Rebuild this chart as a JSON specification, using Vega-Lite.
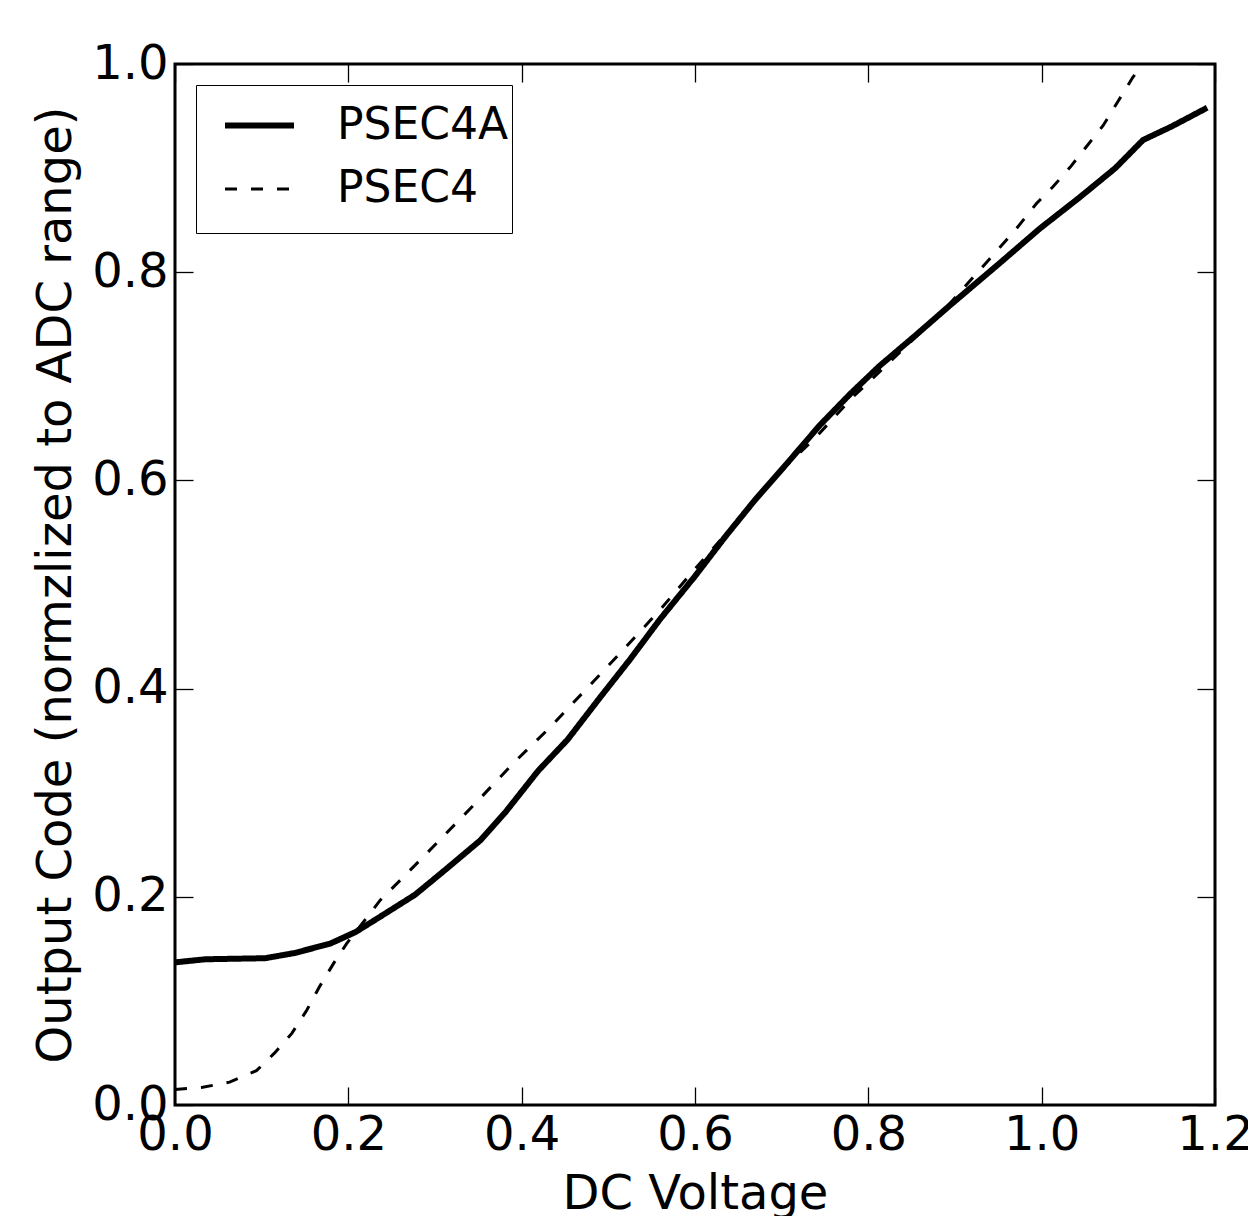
{
  "$schema": "https://vega.github.io/schema/vega-lite/v6.json",
  "autosize": {"type": "none"},
  "width": 1040,
  "height": 1041,
  "padding": {"left": 175, "top": 64, "right": 33, "bottom": 111},
  "background": "white",
  "config": {
    "font": "DejaVu Sans",
    "view": {"stroke": "black", "strokeWidth": 3},
    "axis": {
      "domain": false,
      "grid": false,
      "tickSize": -18,
      "tickColor": "black",
      "tickWidth": 1.3,
      "labelFont": "DejaVu Sans",
      "labelFontSize": 48,
      "labelColor": "black",
      "labelFlush": false,
      "labelOverlap": false,
      "labelBound": false,
      "titleFont": "DejaVu Sans",
      "titleFontSize": 48,
      "titleFontWeight": "normal",
      "titleColor": "black"
    },
    "legend": {
      "titleFont": "DejaVu Sans",
      "titleFontSize": 8,
      "titleOrient": "bottom",
      "titlePadding": 11,
      "titleColor": "white"
    }
  },
  "data": {
    "values": [
      {"v": 0.000, "code": 0.137, "series": "PSEC4A"},
      {"v": 0.035, "code": 0.140, "series": "PSEC4A"},
      {"v": 0.104, "code": 0.141, "series": "PSEC4A"},
      {"v": 0.138, "code": 0.146, "series": "PSEC4A"},
      {"v": 0.179, "code": 0.155, "series": "PSEC4A"},
      {"v": 0.208, "code": 0.166, "series": "PSEC4A"},
      {"v": 0.237, "code": 0.181, "series": "PSEC4A"},
      {"v": 0.277, "code": 0.202, "series": "PSEC4A"},
      {"v": 0.312, "code": 0.226, "series": "PSEC4A"},
      {"v": 0.352, "code": 0.254, "series": "PSEC4A"},
      {"v": 0.381, "code": 0.281, "series": "PSEC4A"},
      {"v": 0.419, "code": 0.321, "series": "PSEC4A"},
      {"v": 0.453, "code": 0.351, "series": "PSEC4A"},
      {"v": 0.490, "code": 0.391, "series": "PSEC4A"},
      {"v": 0.525, "code": 0.428, "series": "PSEC4A"},
      {"v": 0.560, "code": 0.467, "series": "PSEC4A"},
      {"v": 0.600, "code": 0.508, "series": "PSEC4A"},
      {"v": 0.635, "code": 0.546, "series": "PSEC4A"},
      {"v": 0.669, "code": 0.581, "series": "PSEC4A"},
      {"v": 0.710, "code": 0.620, "series": "PSEC4A"},
      {"v": 0.744, "code": 0.653, "series": "PSEC4A"},
      {"v": 0.779, "code": 0.683, "series": "PSEC4A"},
      {"v": 0.813, "code": 0.710, "series": "PSEC4A"},
      {"v": 0.854, "code": 0.739, "series": "PSEC4A"},
      {"v": 0.894, "code": 0.768, "series": "PSEC4A"},
      {"v": 0.952, "code": 0.809, "series": "PSEC4A"},
      {"v": 0.998, "code": 0.842, "series": "PSEC4A"},
      {"v": 1.044, "code": 0.872, "series": "PSEC4A"},
      {"v": 1.085, "code": 0.900, "series": "PSEC4A"},
      {"v": 1.117, "code": 0.927, "series": "PSEC4A"},
      {"v": 1.150, "code": 0.940, "series": "PSEC4A"},
      {"v": 1.191, "code": 0.958, "series": "PSEC4A"},
      {"v": 0.000, "code": 0.015, "series": "PSEC4"},
      {"v": 0.032, "code": 0.017, "series": "PSEC4"},
      {"v": 0.063, "code": 0.022, "series": "PSEC4"},
      {"v": 0.094, "code": 0.033, "series": "PSEC4"},
      {"v": 0.115, "code": 0.050, "series": "PSEC4"},
      {"v": 0.135, "code": 0.069, "series": "PSEC4"},
      {"v": 0.152, "code": 0.091, "series": "PSEC4"},
      {"v": 0.167, "code": 0.114, "series": "PSEC4"},
      {"v": 0.183, "code": 0.136, "series": "PSEC4"},
      {"v": 0.198, "code": 0.155, "series": "PSEC4"},
      {"v": 0.213, "code": 0.171, "series": "PSEC4"},
      {"v": 0.237, "code": 0.197, "series": "PSEC4"},
      {"v": 0.260, "code": 0.216, "series": "PSEC4"},
      {"v": 0.306, "code": 0.255, "series": "PSEC4"},
      {"v": 0.348, "code": 0.291, "series": "PSEC4"},
      {"v": 0.390, "code": 0.328, "series": "PSEC4"},
      {"v": 0.433, "code": 0.363, "series": "PSEC4"},
      {"v": 0.475, "code": 0.400, "series": "PSEC4"},
      {"v": 0.517, "code": 0.437, "series": "PSEC4"},
      {"v": 0.560, "code": 0.476, "series": "PSEC4"},
      {"v": 0.598, "code": 0.513, "series": "PSEC4"},
      {"v": 0.698, "code": 0.608, "series": "PSEC4"},
      {"v": 0.740, "code": 0.642, "series": "PSEC4"},
      {"v": 0.782, "code": 0.680, "series": "PSEC4"},
      {"v": 0.805, "code": 0.698, "series": "PSEC4"},
      {"v": 0.891, "code": 0.767, "series": "PSEC4"},
      {"v": 0.969, "code": 0.840, "series": "PSEC4"},
      {"v": 0.994, "code": 0.866, "series": "PSEC4"},
      {"v": 1.013, "code": 0.882, "series": "PSEC4"},
      {"v": 1.033, "code": 0.901, "series": "PSEC4"},
      {"v": 1.052, "code": 0.921, "series": "PSEC4"},
      {"v": 1.071, "code": 0.941, "series": "PSEC4"},
      {"v": 1.088, "code": 0.964, "series": "PSEC4"},
      {"v": 1.105, "code": 0.987, "series": "PSEC4"},
      {"v": 1.113, "code": 0.996, "series": "PSEC4"}
    ]
  },
  "resolve": {"axis": {"x": "independent", "y": "independent"}},
  "layer": [
    {
      "mark": {"type": "line", "color": "black", "clip": true, "strokeCap": "butt"},
      "encoding": {
        "x": {
          "field": "v", "type": "quantitative",
          "scale": {"domain": [0, 1.2], "nice": false, "zero": false},
          "axis": {"orient": "bottom", "title": "DC Voltage", "values": [0, 0.2, 0.4, 0.6, 0.8, 1.0, 1.2], "format": ".1f", "labelPadding": 24, "titlePadding": 11}
        },
        "y": {
          "field": "code", "type": "quantitative",
          "scale": {"domain": [0, 1], "nice": false, "zero": false},
          "axis": {"orient": "left", "title": "Output Code (normzlized to ADC range)", "values": [0, 0.2, 0.4, 0.6, 0.8, 1.0], "format": ".1f", "labelPadding": 25, "titlePadding": 11}
        },
        "strokeDash": {
          "field": "series", "type": "nominal",
          "scale": {"domain": ["PSEC4A", "PSEC4"], "range": [[1, 0], [12, 14]]},
          "legend": {
            "title": " ",
            "orient": "top-left",
            "offset": 21,
            "symbolType": "stroke",
            "symbolSize": 4761,
            "symbolStrokeColor": "black",
            "labelFont": "DejaVu Sans",
            "labelFontSize": 44,
            "labelColor": "black",
            "labelLimit": 0,
            "labelOffset": 40,
            "symbolOffset": 23,
            "padding": 3,
            "rowPadding": 5,
            "strokeColor": "black",
            "fillColor": "white",
            "cornerRadius": 0
          }
        },
        "strokeWidth": {
          "field": "series", "type": "nominal",
          "scale": {"domain": ["PSEC4A", "PSEC4"], "range": [6, 3]},
          "legend": {
            "title": " ",
            "orient": "top-left",
            "offset": 21,
            "symbolType": "stroke",
            "symbolSize": 4761,
            "symbolStrokeColor": "black",
            "labelFont": "DejaVu Sans",
            "labelFontSize": 44,
            "labelColor": "black",
            "labelLimit": 0,
            "labelOffset": 40,
            "symbolOffset": 23,
            "padding": 3,
            "rowPadding": 5,
            "strokeColor": "black",
            "fillColor": "white",
            "cornerRadius": 0
          }
        },
        "detail": {"field": "series"}
      }
    },
    {
      "mark": {"type": "line", "opacity": 0},
      "encoding": {
        "x": {
          "field": "v", "type": "quantitative",
          "axis": {"orient": "top", "title": null, "labels": false, "values": [0, 0.2, 0.4, 0.6, 0.8, 1.0, 1.2]}
        },
        "y": {
          "field": "code", "type": "quantitative",
          "axis": {"orient": "right", "title": null, "labels": false, "values": [0, 0.2, 0.4, 0.6, 0.8, 1.0]}
        },
        "detail": {"field": "series"}
      }
    }
  ]
}
